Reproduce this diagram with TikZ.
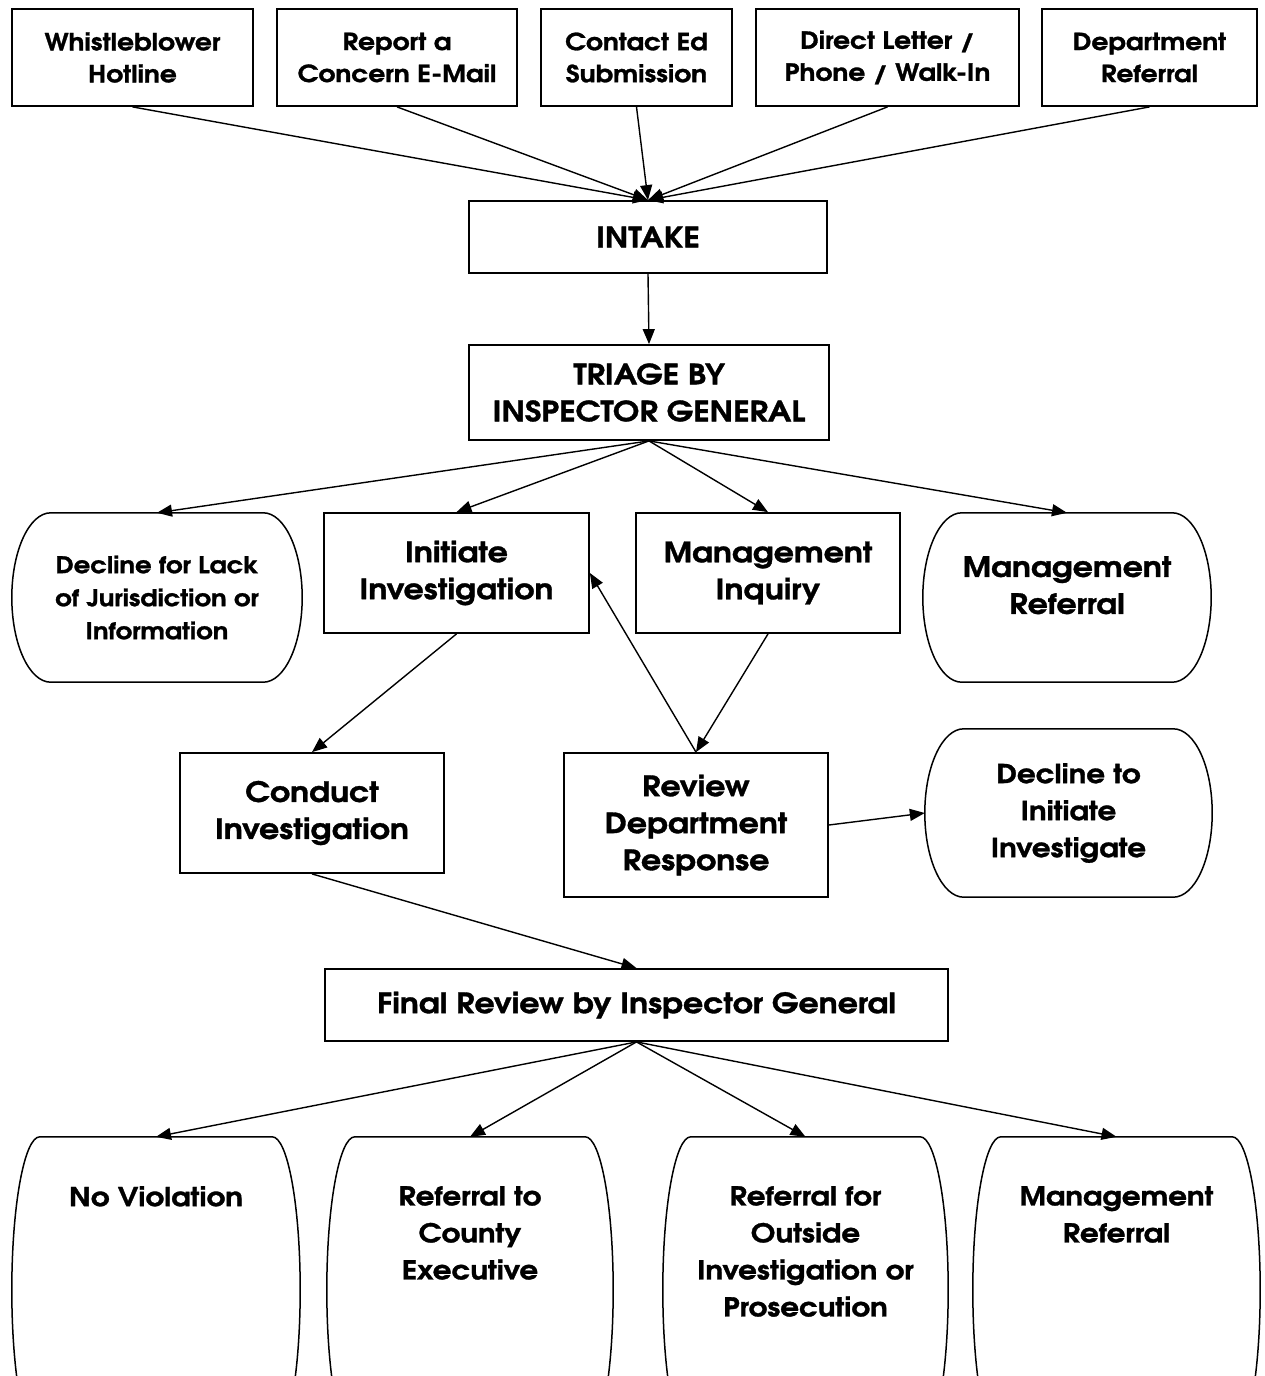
\documentclass[tikz,border=0pt]{standalone}
\usepackage{fontspec}
\setmainfont{TeX Gyre Adventor}[BoldFeatures={FakeStretch=1.13,FakeBold=1.2}]
\usetikzlibrary{arrows.meta,calc}
\tikzset{
  box/.style={draw, line width=1.8pt, inner sep=0pt, align=center},
  hole/.style={inner sep=0pt, align=center},
  fA/.style={font=\fontsize{23.5}{32}\selectfont\bfseries},
  fB/.style={font=\fontsize{28}{37}\selectfont\bfseries},
  fC/.style={font=\fontsize{23}{33}\selectfont\bfseries},
  fD/.style={font=\fontsize{26}{37}\selectfont\bfseries},
  conn/.style={line width=1.4pt, -{Triangle[length=15pt,width=12pt]}},
  termline/.style={line width=1.5pt},
}
\newcommand\termdraw[2]{%
  \draw[termline] let \p1=(#1.north west), \p2=(#1.south east), \n1={(\y1-\y2)/2} in
   (\x1+#2,\y1) -- (\x2-#2,\y1)
   arc[start angle=90, end angle=-90, x radius=#2, y radius=\n1]
   -- (\x1+#2,\y2)
   arc[start angle=270, end angle=90, x radius=#2, y radius=\n1] -- cycle;}
\begin{document}
\begin{tikzpicture}[x=1pt,y=-1pt]
\useasboundingbox (0,0) rectangle (1264,1376);
\clip (0,0) rectangle (1264,1376);
\fill[white] (0,0) rectangle (1264,1376);

% top sources
\node[box,fA,minimum width=241pt,minimum height=97pt] (wb) at (132.5,57.5) {Whistleblower\\Hotline};
\node[box,fA,minimum width=240pt,minimum height=97pt] (rc) at (397,57.5) {Report a\\Concern E-Mail};
\node[box,fA,minimum width=191pt,minimum height=97pt] (ce) at (636.5,57.5) {Contact Ed\\Submission};
\node[box,fA,minimum width=263pt,minimum height=97pt] (dl) at (887.5,57.5) {Direct Letter /\\Phone / Walk-In};
\node[box,fA,minimum width=215pt,minimum height=97pt] (dr) at (1149.5,57.5) {Department\\Referral};

\node[box,fB,minimum width=358pt,minimum height=72pt] (intake) at (648,237) {INTAKE};
\node[box,fB,minimum width=360pt,minimum height=95pt] (triage) at (649,392.5) {TRIAGE BY\\INSPECTOR GENERAL};

% second level
\node[hole,fC,minimum width=290pt,minimum height=169pt] (dec) at (157,597.5) {Decline for Lack\\of Jurisdiction or\\Information};
\termdraw{dec}{39pt}
\node[box,fB,minimum width=265pt,minimum height=120pt] (ini) at (456.5,573) {Initiate\\Investigation};
\node[box,fB,minimum width=264pt,minimum height=120pt] (mi) at (768,573) {Management\\Inquiry};
\node[hole,minimum width=288pt,minimum height=169pt] (mr) at (1067,597.5) {};
\termdraw{mr}{39pt}
\node[hole,fB,anchor=north] (mrt) at (1067,556) {Management\\Referral};

% third level
\node[box,fB,minimum width=264pt,minimum height=120pt] (ci) at (312,813) {Conduct\\Investigation};
\node[box,fB,minimum width=264pt,minimum height=144pt] (rd) at (696,825) {Review\\Department\\Response};
\node[hole,fD,minimum width=287pt,minimum height=168pt] (dti) at (1068.5,813) {Decline to\\Initiate\\Investigate};
\termdraw{dti}{39pt}

\node[box,fB,minimum width=623pt,minimum height=72pt] (fr) at (636.5,1005) {Final Review by Inspector General};

% outcomes
\node[hole,minimum width=288pt,minimum height=306pt] (nv) at (156,1290) {};
\node[hole,minimum width=286pt,minimum height=306pt] (rce) at (470,1290) {};
\node[hole,minimum width=285pt,minimum height=306pt] (roi) at (805.5,1290) {};
\node[hole,minimum width=287pt,minimum height=306pt] (mr2) at (1116.5,1290) {};
\termdraw{nv}{28pt}
\termdraw{rce}{28pt}
\termdraw{roi}{28pt}
\termdraw{mr2}{28pt}
\node[hole,fD,anchor=north] (nvt) at (156,1186) {No Violation};
\node[hole,fD,anchor=north] (rcet) at (470,1186) {Referral to\\County\\Executive};
\node[hole,fD,anchor=north] (roit) at (805.5,1186) {Referral for\\Outside\\Investigation or\\Prosecution};
\node[hole,fD,anchor=north] (mr2t) at (1116.5,1186) {Management\\Referral};

% connectors
\foreach \s in {wb,rc,ce,dl,dr} \draw[conn] (\s.south) -- (intake.north);
\draw[conn] (intake.south) -- (triage.north);
\foreach \t in {dec,ini,mi,mr} \draw[conn] (triage.south) -- (\t.north);
\draw[conn] (ini.south) -- (ci.north);
\draw[conn] (mi.south) -- (rd.north);
\draw[conn] (rd.north) -- (ini.east);
\draw[conn] (rd.east) -- (dti.west);
\draw[conn] (ci.south) -- (fr.north);
\foreach \t in {nv,rce,roi,mr2} \draw[conn] (fr.south) -- (\t.north);
\end{tikzpicture}
\end{document}
